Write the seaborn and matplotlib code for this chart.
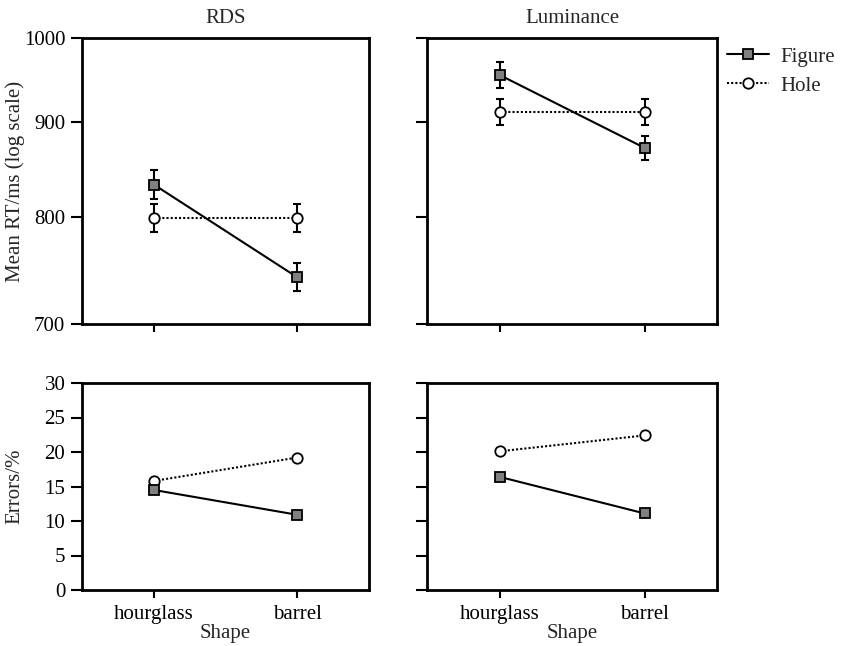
import matplotlib
matplotlib.use("Agg")
import matplotlib.pyplot as plt
import matplotlib.ticker as mticker
import seaborn as sns
import pandas as pd
import numpy as np

# ---- data ----
shapes = ["hourglass", "barrel"]
conditions = ["RDS", "Luminance"]

rt_figure_rds = [833, 742]
rt_figure_rds_err = [15, 13]
rt_hole_rds = [799, 799]
rt_hole_rds_err = [14, 14]

rt_figure_lum = [955, 872]
rt_figure_lum_err = [15, 13]
rt_hole_lum = [912, 912]
rt_hole_lum_err = [15, 15]

err_figure_rds = [14.5, 10.9]
err_hole_rds = [15.8, 19.2]
err_figure_lum = [16.4, 11.1]
err_hole_lum = [20.1, 22.4]

rt_ticks = [700, 800, 900, 1000]
err_ticks = [0, 5, 10, 15, 20, 25, 30]

sns.set_theme(style="ticks")
plt.rcParams["font.family"] = ["Liberation Serif", "DejaVu Serif"]
FS = 15
plt.rcParams["font.size"] = FS

W, H = 856, 646
fig = plt.figure(figsize=(W / 100, H / 100), dpi=100)

def box(x0, x1, y0, y1):
    return [x0 / W, 1 - y1 / H, (x1 - x0) / W, (y1 - y0) / H]

ax_tl = fig.add_axes(box(82, 369, 38, 324))
ax_tr = fig.add_axes(box(427, 717, 38, 324))
ax_bl = fig.add_axes(box(82, 369, 383, 590))
ax_br = fig.add_axes(box(427, 717, 383, 590))

xpos = list(range(len(shapes)))

fig_style = dict(color="black", linestyle="-", linewidth=1.5, marker="s",
                 markersize=7, markerfacecolor="#808080", markeredgecolor="black",
                 markeredgewidth=1.3)
hole_style = dict(color="black", linestyle=(0, (1, 1)), linewidth=1.5, marker="o",
                  markersize=7.5, markerfacecolor="white", markeredgecolor="black",
                  markeredgewidth=1.3)

def draw(ax, fvals, hvals, ferr=None, herr=None):
    df = pd.DataFrame({
        "x": xpos * 2,
        "y": list(fvals) + list(hvals),
        "Group": ["Figure"] * len(xpos) + ["Hole"] * len(xpos),
    })
    sub_f = df[df.Group == "Figure"]
    sub_h = df[df.Group == "Hole"]
    if ferr is not None:
        ax.errorbar(xpos, fvals, yerr=ferr, fmt="none", ecolor="black",
                    elinewidth=1.5, capsize=3, capthick=1.5, zorder=1)
        ax.errorbar(xpos, hvals, yerr=herr, fmt="none", ecolor="black",
                    elinewidth=1.5, capsize=3, capthick=1.5, zorder=1)
    sns.lineplot(data=sub_h, x="x", y="y", ax=ax, legend=False, zorder=3, **hole_style)
    sns.lineplot(data=sub_f, x="x", y="y", ax=ax, legend=False, zorder=4, **fig_style)
    ax.set_xlim(-0.5, 1.5)
    ax.set_xticks(xpos)
    ax.set_xlabel("")
    ax.set_ylabel("")
    for s in ax.spines.values():
        s.set_linewidth(2)
        s.set_color("black")
    ax.tick_params(axis="y", direction="out", length=8, width=1.5, pad=4,
                   color="black", labelsize=FS, labelcolor="black")
    ax.tick_params(axis="x", direction="out", length=6, width=1.5, pad=5,
                   color="black", labelsize=FS, labelcolor="black")

draw(ax_tl, rt_figure_rds, rt_hole_rds, rt_figure_rds_err, rt_hole_rds_err)
draw(ax_tr, rt_figure_lum, rt_hole_lum, rt_figure_lum_err, rt_hole_lum_err)
draw(ax_bl, err_figure_rds, err_hole_rds)
draw(ax_br, err_figure_lum, err_hole_lum)

for ax in (ax_tl, ax_tr):
    ax.set_yscale("log")
    ax.set_ylim(700, 1000)
    ax.yaxis.set_major_locator(mticker.FixedLocator(rt_ticks))
    ax.yaxis.set_minor_locator(mticker.NullLocator())
    ax.yaxis.set_major_formatter(mticker.FixedFormatter([str(t) for t in rt_ticks]))
    ax.set_xticklabels([])
for ax in (ax_bl, ax_br):
    ax.set_ylim(0, 30)
    ax.set_yticks(err_ticks)
    ax.set_xticklabels(shapes)
    ax.set_xlabel("Shape", fontsize=FS, labelpad=0)
ax_tr.set_yticklabels([])
ax_br.set_yticklabels([])

ax_tl.set_title(conditions[0], fontsize=FS, pad=11)
ax_tr.set_title(conditions[1], fontsize=FS, pad=11)
ax_tl.set_ylabel("Mean RT/ms (log scale)", fontsize=FS)
ax_bl.set_ylabel("Errors/%", fontsize=FS)
ax_tl.yaxis.set_label_coords(-0.2, 0.5)
ax_bl.yaxis.set_label_coords(-0.2, 0.5)

handles = [
    plt.Line2D([], [], **fig_style),
    plt.Line2D([], [], **hole_style),
]
fig.legend(handles, ["Figure", "Hole"], loc="upper left",
           bbox_to_anchor=(727 / W, 1 - 47 / H), frameon=False,
           handlelength=2.0, handletextpad=0.55, fontsize=FS,
           labelspacing=0.45, borderaxespad=0, borderpad=0)

fig.savefig("out.png", dpi=100)
